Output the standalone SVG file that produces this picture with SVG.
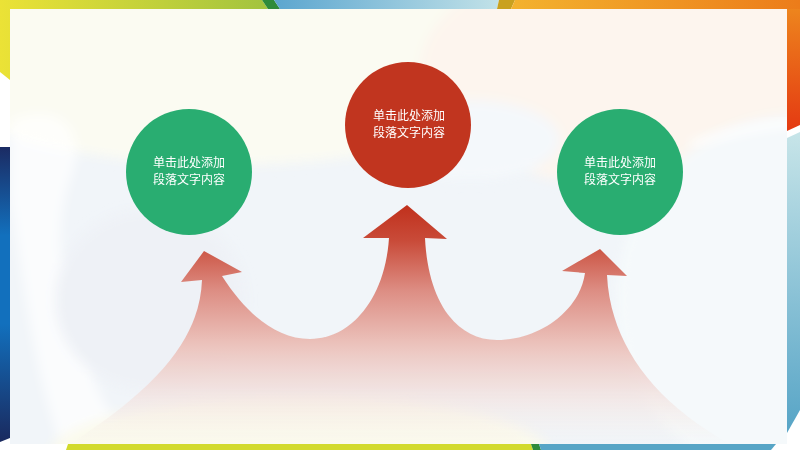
<svg xmlns="http://www.w3.org/2000/svg" width="800" height="450" viewBox="0 0 800 450">
  <defs>
    <style>
      .node-text { font-family: "Noto Sans CJK SC", "Noto Sans", sans-serif; font-size: 12px; fill: #ffffff; text-anchor: middle; }
      .green { fill: #29ad71; }
      .red { fill: #c1351f; }
    </style>
    <linearGradient id="gTopLeft" x1="0" y1="0" x2="262" y2="0" gradientUnits="userSpaceOnUse">
      <stop offset="0" stop-color="#ebe236"/>
      <stop offset="1" stop-color="#a4c43e"/>
    </linearGradient>
    <linearGradient id="gTopBlue" x1="275" y1="0" x2="500" y2="0" gradientUnits="userSpaceOnUse">
      <stop offset="0" stop-color="#5ca6cf"/>
      <stop offset="1" stop-color="#c2e2e8"/>
    </linearGradient>
    <linearGradient id="gTopOrange" x1="512" y1="0" x2="800" y2="0" gradientUnits="userSpaceOnUse">
      <stop offset="0" stop-color="#f3b22e"/>
      <stop offset="1" stop-color="#ec7c1a"/>
    </linearGradient>
    <linearGradient id="gRightOrange" x1="0" y1="0" x2="0" y2="130" gradientUnits="userSpaceOnUse">
      <stop offset="0" stop-color="#ee8a1e"/>
      <stop offset="1" stop-color="#e43a12"/>
    </linearGradient>
    <linearGradient id="gRightBlue" x1="0" y1="135" x2="0" y2="435" gradientUnits="userSpaceOnUse">
      <stop offset="0" stop-color="#c6e4e8"/>
      <stop offset="1" stop-color="#56a4c6"/>
    </linearGradient>
    <linearGradient id="gLeftNavy" x1="0" y1="147" x2="0" y2="442" gradientUnits="userSpaceOnUse">
      <stop offset="0" stop-color="#1b2b63"/>
      <stop offset="0.3" stop-color="#1270bd"/>
      <stop offset="0.6" stop-color="#1270bd"/>
      <stop offset="1" stop-color="#1a295e"/>
    </linearGradient>
    <linearGradient id="gArrow" x1="0" y1="205" x2="0" y2="444" gradientUnits="userSpaceOnUse">
      <stop offset="0" stop-color="#c0301c"/>
      <stop offset="0.15" stop-color="#c94b39"/>
      <stop offset="0.36" stop-color="#dd8e84"/>
      <stop offset="0.56" stop-color="#eabdb6"/>
      <stop offset="0.77" stop-color="#f1dedb" stop-opacity="0.8"/>
      <stop offset="1" stop-color="#f6efea" stop-opacity="0"/>
    </linearGradient>
    <filter id="soft" x="-20%" y="-20%" width="140%" height="140%">
      <feGaussianBlur stdDeviation="6"/>
    </filter>
    <clipPath id="panelClip">
      <rect x="10" y="9" width="777" height="435"/>
    </clipPath>
  </defs>

  <!-- background -->
  <rect x="0" y="0" width="800" height="450" fill="#ffffff"/>

  <!-- frame pieces -->
  <g id="frame">
    <polygon points="0,0 262,0 268,9 10,9 10,80 0,72" fill="url(#gTopLeft)"/>
    <polygon points="262,0 274,0 280,9 268,9" fill="#2f8b3b"/>
    <polygon points="274,0 499,0 497,9 280,9" fill="url(#gTopBlue)"/>
    <polygon points="499,0 515,0 511,9 497,9" fill="#c9a11f"/>
    <polygon points="515,0 800,0 800,9 511,9" fill="url(#gTopOrange)"/>
    <polygon points="787,9 800,9 800,125 787,131" fill="url(#gRightOrange)"/>
    <polygon points="787,138 800,132 800,410 787,433" fill="url(#gRightBlue)"/>
    <polygon points="0,147 10,147 10,438 0,442" fill="url(#gLeftNavy)"/>
    <polygon points="68,444 531,444 533,450 66,450" fill="#d2da2c"/>
    <polygon points="531,444 539,444 541,450 533,450" fill="#2f8b3b"/>
    <polygon points="539,444 776,444 771,450 541,450" fill="#57a5c6"/>
  </g>

  <!-- panel with soft background blobs -->
  <g id="panel" clip-path="url(#panelClip)">
    <rect x="10" y="9" width="777" height="435" fill="#f1f5f9"/>
    <g filter="url(#soft)">
      <ellipse cx="230" cy="40" rx="340" ry="125" fill="#fbfbf2"/>
      <ellipse cx="650" cy="70" rx="230" ry="120" fill="#fdf5ee"/>
      <ellipse cx="470" cy="140" rx="90" ry="40" fill="#f4f8fb"/>
      <path d="M 10,120 C 60,100 90,130 70,180 C 50,240 60,330 120,430 L 60,444 C 30,360 20,250 10,200 Z" fill="#ffffff" opacity="0.7"/>
      <ellipse cx="150" cy="300" rx="95" ry="90" fill="#eef1f6"/>
      <ellipse cx="300" cy="455" rx="250" ry="60" fill="#fbfaed"/>
      <circle cx="800" cy="300" r="185" fill="#f5f9fb"/>
    </g>
    <path d="M 690,145 Q 740,128 800,122" fill="none" stroke="#ffffff" stroke-width="8" opacity="0.9" filter="url(#soft)"/>
  </g>

  <!-- connectors: the three-headed arrow -->
  <g id="connectors">
    <path d="M 70,444
             C 170,380 200,330 202,280
             L 181,282 L 204,251 L 242,272 L 222,276
             C 245,312 275,339 310,339
             C 350,339 385,300 389,238
             L 363,238 L 407,205 L 447,239 L 425,238
             C 428,300 455,340 497,340
             C 540,340 580,310 585,273
             L 562,271 L 600,249 L 627,276 L 607,275
             C 610,340 650,400 730,444 Z" fill="url(#gArrow)"/>
  </g>

  <!-- nodes -->
  <g id="node-left">
    <circle class="green" cx="189" cy="172" r="63"/>
    <text class="node-text" x="189" y="167">单击此处添加</text>
    <text class="node-text" x="189" y="184">段落文字内容</text>
  </g>
  <g id="node-middle">
    <circle class="red" cx="408" cy="125" r="63"/>
    <text class="node-text" x="409" y="120">单击此处添加</text>
    <text class="node-text" x="409" y="137">段落文字内容</text>
  </g>
  <g id="node-right">
    <circle class="green" cx="620" cy="172" r="63"/>
    <text class="node-text" x="620" y="167">单击此处添加</text>
    <text class="node-text" x="620" y="184">段落文字内容</text>
  </g>
</svg>
